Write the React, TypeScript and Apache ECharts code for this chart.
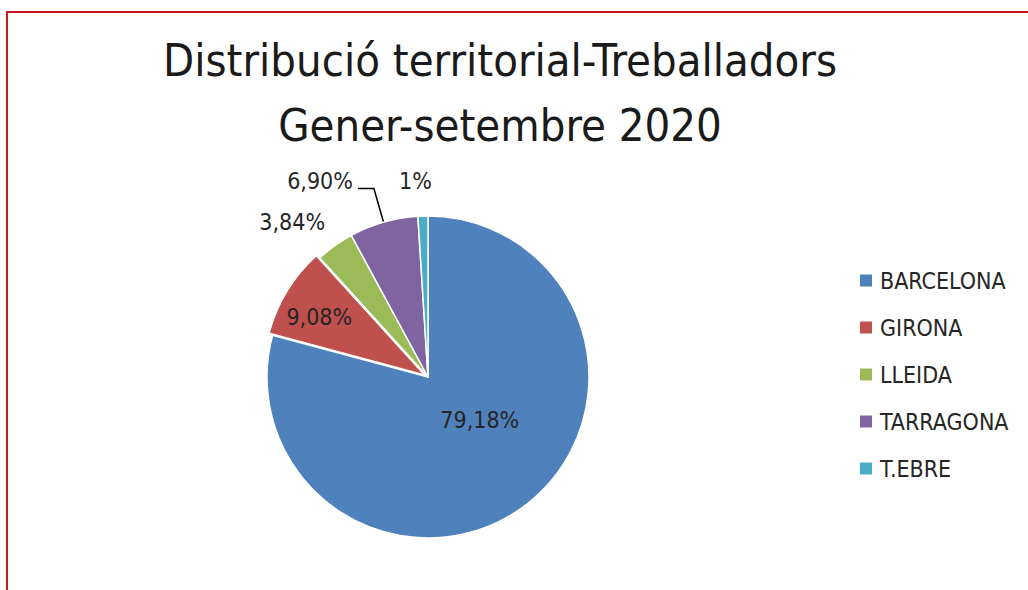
import React, { useEffect, useRef } from "react";
import * as echarts from "echarts";

const categories = ["BARCELONA", "GIRONA", "LLEIDA", "TARRAGONA", "T.EBRE"];
const shares = [79.18, 9.08, 3.84, 6.9, 1];
const colors = ["#4F81BD", "#C0504D", "#9BBB59", "#8064A2", "#4BACC6"];

const FONT = "'DejaVu Sans Condensed', 'Liberation Sans Narrow', 'Open Sans', sans-serif";

const fmt = (v: number) =>
  Number.isInteger(v) ? `${v}%` : v.toFixed(2).replace(".", ",") + "%";

// label placement styles (not data)
const labelStyles: any[] = [
  { position: "inside" },
  { position: "inside" },
  { position: "outside", distanceToLabelLine: -7, line: { show: false, length: 29, length2: 0 } },
  { position: "outside", distanceToLabelLine: 5, raise: true, line: { show: true, length: 35, length2: 16 } },
  { position: "outside", distanceToLabelLine: -10, line: { show: false, length: 35, length2: 0 } },
];
const insideNudge: [number, number][] = [[1, -23], [-34, -14], [0, 0], [0, 0], [0, 0]];

export default function App() {
  const ref = useRef<HTMLDivElement>(null);
  useEffect(() => {
    document.body.style.margin = "0";
    const chart = echarts.init(ref.current!, null, { renderer: "svg" });
    chart.setOption({
      animation: false,
      backgroundColor: "#ffffff",
      title: {
        text: "Distribució territorial-Treballadors\nGener-setembre 2020",
        left: 495,
        top: 23,
        textAlign: "center",
        textStyle: {
          fontFamily: FONT,
          fontWeight: "normal",
          fontSize: 45,
          lineHeight: 65,
          color: "#1a1a1a",
        },
      },
      graphic: [
        {
          type: "rect",
          shape: { x: 7, y: 12, width: 1100, height: 700 },
          style: { fill: "none", stroke: "#C8171E", lineWidth: 2 },
          silent: true,
        },
      ],
      legend: {
        orient: "vertical",
        left: 858,
        top: 269,
        padding: 0,
        itemWidth: 14,
        itemHeight: 14,
        itemGap: 24,
        icon: "rect",
        data: categories,
        textStyle: {
          fontFamily: FONT,
          fontSize: 23,
          color: "#262626",
          padding: [0, 0, 0, 2],
        },
      },
      series: [
        {
          type: "pie",
          center: [428, 377],
          radius: 161,
          startAngle: 90,
          clockwise: true,
          avoidLabelOverlap: false,
          selectedMode: "single",
          selectedOffset: 4,
          itemStyle: { borderColor: "#ffffff", borderWidth: 1.5 },
          labelLayout: (p: any) => {
            const n = insideNudge[p.dataIndex];
            return { dx: n[0], dy: n[1] };
          },
          data: categories.map((name, i) => {
            const ls = labelStyles[i];
            return {
              name,
              value: shares[i],
              selected: i === 1,
              itemStyle: { color: colors[i] },
              label: {
                show: true,
                position: ls.position,
                formatter: () => fmt(shares[i]) + (ls.raise ? "\n " : ""),
                fontFamily: FONT,
                fontSize: 23,
                lineHeight: ls.raise ? 16 : undefined,
                color: "#262626",
                distanceToLabelLine: ls.distanceToLabelLine ?? 5,
              },
              labelLine: ls.line
                ? {
                    show: ls.line.show,
                    length: ls.line.length,
                    length2: ls.line.length2,
                    smooth: false,
                    lineStyle: { color: "#000000", width: 1.5 },
                  }
                : { show: false },
            };
          }),
        },
      ],
    });
    return () => chart.dispose();
  }, []);
  return (
    <div
      ref={ref}
      style={{ width: 1028, height: 590, position: "absolute", left: 0, top: 0 }}
    />
  );
}
